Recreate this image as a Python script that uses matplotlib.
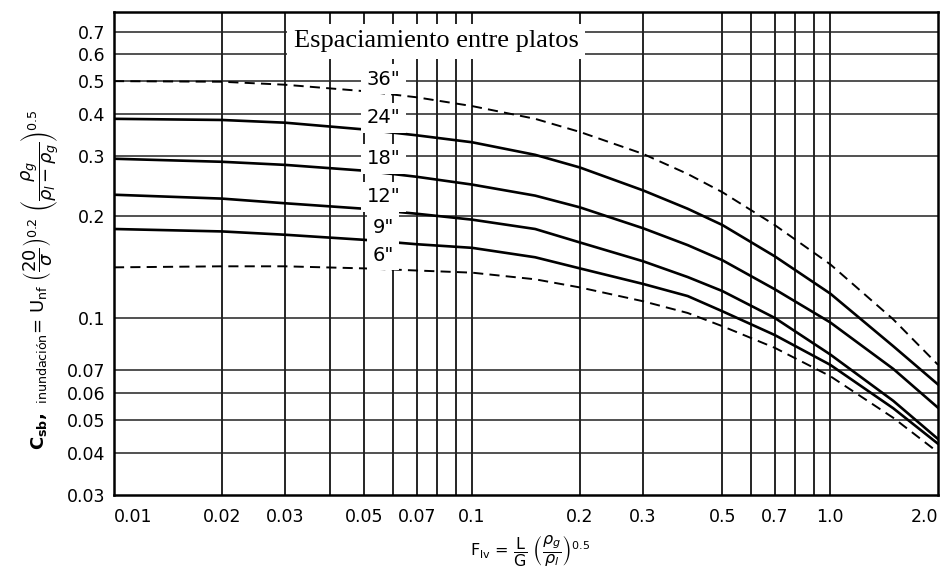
import numpy as np
import matplotlib
matplotlib.use("Agg")
import matplotlib.pyplot as plt

# ---------------- data ----------------
flv = [0.01, 0.02, 0.03, 0.05, 0.07, 0.1, 0.15, 0.2, 0.3, 0.4, 0.5, 0.7, 1.0, 1.5, 2.0]

c36 = [0.500, 0.498, 0.488, 0.467, 0.448, 0.422, 0.387, 0.354, 0.305, 0.266, 0.235, 0.188, 0.144, 0.099, 0.0727]
c24 = [0.387, 0.384, 0.377, 0.360, 0.346, 0.330, 0.303, 0.278, 0.238, 0.210, 0.188, 0.152, 0.118, 0.0825, 0.0636]
c18 = [0.295, 0.289, 0.283, 0.272, 0.261, 0.2475, 0.2296, 0.212, 0.184, 0.164, 0.148, 0.1215, 0.097, 0.0707, 0.0543]
c12 = [0.231, 0.225, 0.218, 0.210, 0.203, 0.195, 0.183, 0.167, 0.147, 0.132, 0.120, 0.100, 0.078, 0.0569, 0.0439]
c9 = [0.183, 0.180, 0.176, 0.170, 0.165, 0.161, 0.151, 0.140, 0.126, 0.116, 0.1046, 0.089, 0.0727, 0.0541, 0.0425]
c6 = [0.141, 0.142, 0.142, 0.140, 0.138, 0.136, 0.130, 0.123, 0.112, 0.1034, 0.0945, 0.0816, 0.0673, 0.0507, 0.0401]

series = [c36, c24, c18, c12, c9, c6]
series_labels = ['36"', '24"', '18"', '12"', '9"', '6"']
series_dashed = [True, False, False, False, False, True]

x_ticks = [0.01, 0.02, 0.03, 0.05, 0.07, 0.1, 0.2, 0.3, 0.5, 0.7, 1.0, 2.0]
x_ticklabels = ['0.01', '0.02', '0.03', '0.05', '0.07', '0.1', '0.2', '0.3', '0.5', '0.7', '1.0', '2.0']
y_ticks = [0.03, 0.04, 0.05, 0.06, 0.07, 0.1, 0.2, 0.3, 0.4, 0.5, 0.6, 0.7]
y_ticklabels = ['0.03', '0.04', '0.05', '0.06', '0.07', '0.1', '0.2', '0.3', '0.4', '0.5', '0.6', '0.7']
x_grid = [0.02, 0.03, 0.04, 0.05, 0.06, 0.07, 0.08, 0.09, 0.1, 0.2, 0.3, 0.5, 0.6, 0.7, 0.8, 0.9, 1.0]
y_grid = [0.04, 0.05, 0.06, 0.07, 0.1, 0.2, 0.3, 0.4, 0.5, 0.6, 0.7]

title_text = "Espaciamiento entre platos"

# ---------------- figure ----------------
plt.rcParams['font.family'] = ['DejaVu Sans']
plt.rcParams['mathtext.fontset'] = 'dejavusans'

fig = plt.figure(figsize=(9.51, 5.72), dpi=100)
ax = fig.add_axes([114/951, 1 - 495/572, (938 - 114)/951, (495 - 12)/572])
ax.set_xscale('log')
ax.set_yscale('log')
ax.set_xlim(0.01, 2.0)
ax.set_ylim(0.03, 0.80)

for gx in x_grid:
    if gx == 0.05:
        # in the original, this line is broken between the title box and the 24" label
        ax.vlines(gx, 0.03, 0.365, color='black', lw=1.2, zorder=1)
        ax.vlines(gx, 0.64, 0.80, color='black', lw=1.2, zorder=1)
    else:
        ax.axvline(gx, color='black', lw=1.2, zorder=1)
for gy in y_grid:
    ax.axhline(gy, color='#222222', lw=1.1, zorder=1)

for vals, dashed in zip(series, series_dashed):
    if dashed:
        ax.plot(flv, vals, color='black', lw=1.4, ls=(0, (5.2, 3.2)), zorder=3)
    else:
        ax.plot(flv, vals, color='black', lw=1.9, zorder=3,
                solid_joinstyle='round')

# curve labels
lab_x = 0.0565
lx = np.log10(flv)
for vals, lab in zip(series, series_labels):
    yv = 10 ** np.interp(np.log10(lab_x), lx, np.log10(vals))
    ax.annotate(lab, xy=(lab_x, yv), xytext=(0, 14), textcoords='offset pixels',
                ha='center', va='center', fontsize=14, zorder=5,
                bbox=dict(boxstyle='square,pad=0.28', fc='white', ec='none'))

ax.text(0.0795, 0.655, title_text,
        family=['Liberation Serif', 'DejaVu Serif'], fontsize=19,
        ha='center', va='center', zorder=5,
        bbox=dict(boxstyle='square,pad=0.25', fc='white', ec='none'))

ax.set_xticks(x_ticks)
ax.set_xticklabels(x_ticklabels)
ax.set_yticks(y_ticks)
ax.set_yticklabels(y_ticklabels)
ax.minorticks_off()
ax.tick_params(axis='both', which='both', length=0, labelsize=12.5)
ax.tick_params(axis='x', pad=9)
ax.tick_params(axis='y', pad=6)
ax.get_xticklabels()[0].set_horizontalalignment('left')
ax.get_xticklabels()[-1].set_horizontalalignment('right')

for s in ax.spines.values():
    s.set_linewidth(1.8)
    s.set_color('black')
    s.set_zorder(6)

fig.text(530/951, 1 - 550/572,
         r'$\mathrm{F_{lv}}$ = $\dfrac{\mathrm{L}}{\mathrm{G}}\ \left(\dfrac{\rho_g}{\rho_l}\right)^{0.5}$',
         ha='center', va='center', fontsize=11.5)

fig.text(40/951, 1 - 280/572,
         r'$\mathbf{C_{sb},}$ $_{\mathrm{inundación}}$= $\mathrm{U_{nf}}\ \left(\dfrac{20}{\sigma}\right)^{0.2}\ \left(\dfrac{\rho_g}{\rho_l-\rho_g}\right)^{0.5}$',
         rotation=90, ha='center', va='center', fontsize=13)

fig.savefig('out.png', dpi=100, facecolor='white')
